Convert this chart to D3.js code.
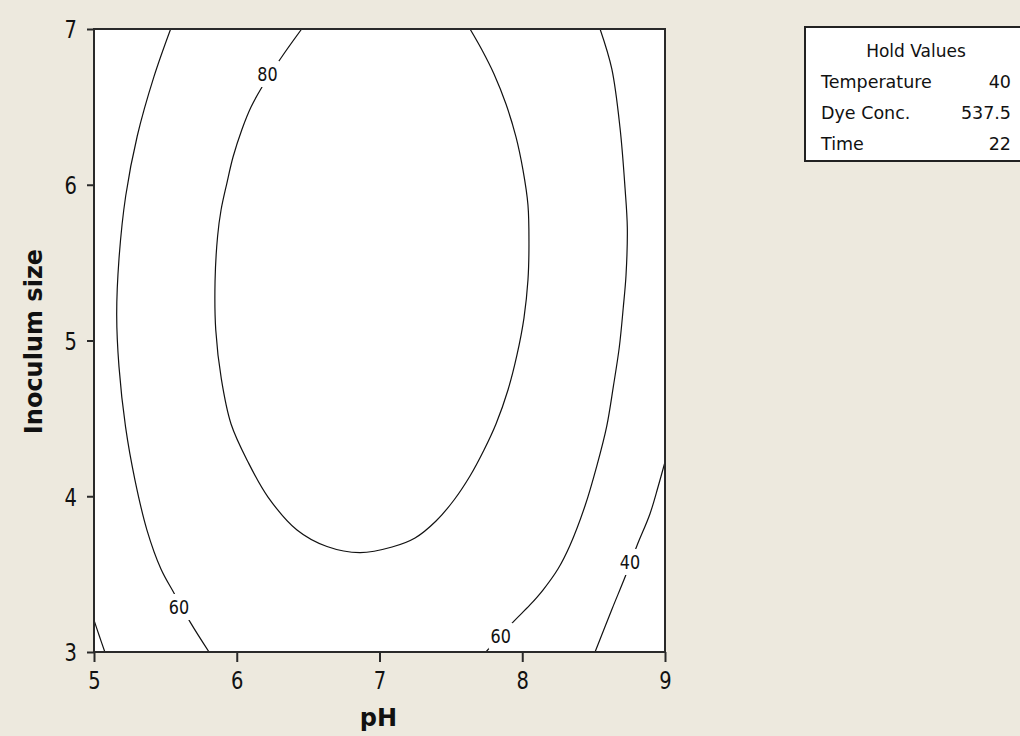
<!DOCTYPE html>
<html>
<head>
<meta charset="utf-8">
<script src="https://cdn.jsdelivr.net/npm/d3@7"></script>
<style>
  body { margin: 0; background: #ede9de; }
  svg { display: block; }
</style>
</head>
<body>
<svg id="chart" width="1020" height="736"></svg>
<script>
'use strict';

// data: [pH, Inoculum size]
const contour80 = [
	[6.455, 7.000], [6.310, 6.814], [6.177, 6.628], [6.100, 6.499], [6.035, 6.352],
	[5.974, 6.178], [5.931, 6.011], [5.890, 5.838], [5.866, 5.671], [5.848, 5.382],
	[5.853, 5.067], [5.892, 4.753], [5.960, 4.464], [6.079, 4.220], [6.219, 3.995],
	[6.422, 3.783], [6.632, 3.677], [6.863, 3.638], [7.088, 3.674], [7.249, 3.732],
	[7.396, 3.841], [7.522, 3.976], [7.634, 4.130], [7.732, 4.297], [7.816, 4.464],
	[7.900, 4.682], [7.963, 4.907], [8.012, 5.144], [8.040, 5.388], [8.047, 5.613],
	[8.040, 5.870], [8.005, 6.095], [7.956, 6.307], [7.886, 6.518], [7.802, 6.711],
	[7.718, 6.865], [7.634, 7.000]
];
const contour60Left = [
	[5.537, 7.000], [5.420, 6.694], [5.303, 6.313], [5.222, 5.928], [5.175, 5.523],
	[5.159, 5.164], [5.175, 4.832], [5.221, 4.445], [5.287, 4.104], [5.371, 3.783],
	[5.469, 3.533], [5.560, 3.379], [5.677, 3.187], [5.806, 3.000]
];
const contour60Right = [
	[8.545, 7.000], [8.627, 6.745], [8.685, 6.364], [8.720, 5.979], [8.736, 5.725],
	[8.727, 5.421], [8.708, 5.215], [8.680, 4.958], [8.638, 4.704], [8.592, 4.451],
	[8.522, 4.194], [8.440, 3.939], [8.334, 3.684], [8.250, 3.533], [8.145, 3.398],
	[8.054, 3.302], [7.949, 3.205], [7.844, 3.103], [7.746, 3.000]
];
const contour40Right = [
	[9.000, 4.220], [8.953, 4.066], [8.895, 3.888], [8.804, 3.684], [8.723, 3.488],
	[8.629, 3.276], [8.510, 3.000]
];
const contour40Left = [
	[5.000, 3.205], [5.035, 3.109], [5.076, 3.000]
];

// [level, pH, Inoculum size]
const contourLabels = [
	[80, 6.215, 6.711],
	[60, 5.595, 3.289],
	[60, 7.849, 3.103],
	[40, 8.755, 3.578]
];

const xTicks = [5, 6, 7, 8, 9];
const yTicks = [3, 4, 5, 6, 7];

const holdTitle = "Hold Values";
const holdNames = ["Temperature", "Dye Conc.", "Time"];
const holdValues = ["40", "537.5", "22"];

const contourLines = [contour80, contour60Left, contour60Right, contour40Right, contour40Left];

// layout
const W = 1020, H = 736;
const plot = {left: 94, right: 665, top: 29, bottom: 652};
const font = '"DejaVu Sans", Verdana, sans-serif';
const ink = "#111";

const svg = d3.select("#chart");

svg.append("rect")
	.attr("width", W)
	.attr("height", H)
	.attr("fill", "#ede9de");

const x = d3.scaleLinear().domain([5, 9]).range([plot.left, plot.right]);
const y = d3.scaleLinear().domain([3, 7]).range([plot.bottom, plot.top]);

svg.append("clipPath")
	.attr("id", "plotClip")
	.append("rect")
	.attr("x", plot.left)
	.attr("y", plot.top)
	.attr("width", plot.right - plot.left)
	.attr("height", plot.bottom - plot.top);

svg.append("rect")
	.attr("x", plot.left)
	.attr("y", plot.top)
	.attr("width", plot.right - plot.left)
	.attr("height", plot.bottom - plot.top)
	.attr("fill", "#fff");

// contours
const line = d3.line()
	.x(d => x(d[0]))
	.y(d => y(d[1]))
	.curve(d3.curveCatmullRom.alpha(0.5));

const contourG = svg.append("g").attr("clip-path", "url(#plotClip)");

contourG.selectAll("path.contour")
	.data(contourLines)
	.join("path")
	.attr("class", "contour")
	.attr("d", line)
	.attr("fill", "none")
	.attr("stroke", ink)
	.attr("stroke-width", 1.2);

const labelG = contourG.selectAll("g.clabel")
	.data(contourLabels)
	.join("g")
	.attr("class", "clabel")
	.attr("transform", d => `translate(${x(d[1])},${y(d[2])})`);

labelG.append("rect")
	.attr("x", -12)
	.attr("y", -13)
	.attr("width", 24)
	.attr("height", 26)
	.attr("fill", "#fff");

labelG.append("text")
	.attr("transform", "scale(1,1.25)")
	.attr("text-anchor", "middle")
	.attr("dominant-baseline", "central")
	.attr("font-family", font)
	.attr("font-size", 16)
	.attr("fill", ink)
	.text(d => d[0]);

// frame
svg.append("rect")
	.attr("x", plot.left)
	.attr("y", plot.top)
	.attr("width", plot.right - plot.left)
	.attr("height", plot.bottom - plot.top)
	.attr("fill", "none")
	.attr("stroke", "#2a2a2a")
	.attr("stroke-width", 2);

// axes
const xAxis = svg.append("g")
	.attr("transform", `translate(0,${plot.bottom})`)
	.call(d3.axisBottom(x).tickValues(xTicks).tickFormat(d3.format("d")).tickSize(10));

const yAxis = svg.append("g")
	.attr("transform", `translate(${plot.left},0)`)
	.call(d3.axisLeft(y).tickValues(yTicks).tickFormat(d3.format("d")).tickSize(7).tickPadding(10));

[xAxis, yAxis].forEach(ax => {
	ax.select(".domain").remove();
	ax.selectAll(".tick line").attr("stroke", "#2a2a2a").attr("stroke-width", 2);
	ax.selectAll(".tick text")
		.attr("font-family", font)
		.attr("font-size", 19.5)
		.attr("fill", ink)
		.attr("dy", null)
		.attr("dominant-baseline", "central");
});

// tick digits are tall and narrow in the original
xAxis.selectAll(".tick text")
	.attr("y", 0)
	.attr("transform", "translate(0,28) scale(1,1.3)");
yAxis.selectAll(".tick text")
	.attr("transform", "scale(1,1.3)");

// axis titles
svg.append("text")
	.attr("x", (plot.left + plot.right) / 2 - 1)
	.attr("y", 718)
	.attr("text-anchor", "middle")
	.attr("dominant-baseline", "central")
	.attr("font-family", font)
	.attr("font-weight", "bold")
	.attr("font-size", 24)
	.attr("fill", ink)
	.text("pH");

svg.append("text")
	.attr("transform", `translate(34,${(plot.top + plot.bottom) / 2 + 1}) rotate(-90)`)
	.attr("text-anchor", "middle")
	.attr("dominant-baseline", "central")
	.attr("font-family", font)
	.attr("font-weight", "bold")
	.attr("font-size", 24)
	.attr("fill", ink)
	.text("Inoculum size");

// hold values box
const box = svg.append("g").attr("transform", "translate(805,27)");

box.append("rect")
	.attr("width", 240)
	.attr("height", 134)
	.attr("fill", "#fff")
	.attr("stroke", "#222")
	.attr("stroke-width", 2);

box.append("text")
	.attr("x", 111)
	.attr("y", 30)
	.attr("text-anchor", "middle")
	.attr("font-family", font)
	.attr("font-size", 17)
	.attr("fill", ink)
	.text(holdTitle);

box.selectAll("text.hname")
	.data(holdNames)
	.join("text")
	.attr("class", "hname")
	.attr("x", 16)
	.attr("y", (d, i) => 61 + i * 31)
	.attr("font-family", font)
	.attr("font-size", 17.5)
	.attr("fill", ink)
	.text(d => d);

box.selectAll("text.hval")
	.data(holdValues)
	.join("text")
	.attr("class", "hval")
	.attr("x", 206)
	.attr("y", (d, i) => 61 + i * 31)
	.attr("text-anchor", "end")
	.attr("font-family", font)
	.attr("font-size", 17.5)
	.attr("fill", ink)
	.text(d => d);
</script>
</body>
</html>
